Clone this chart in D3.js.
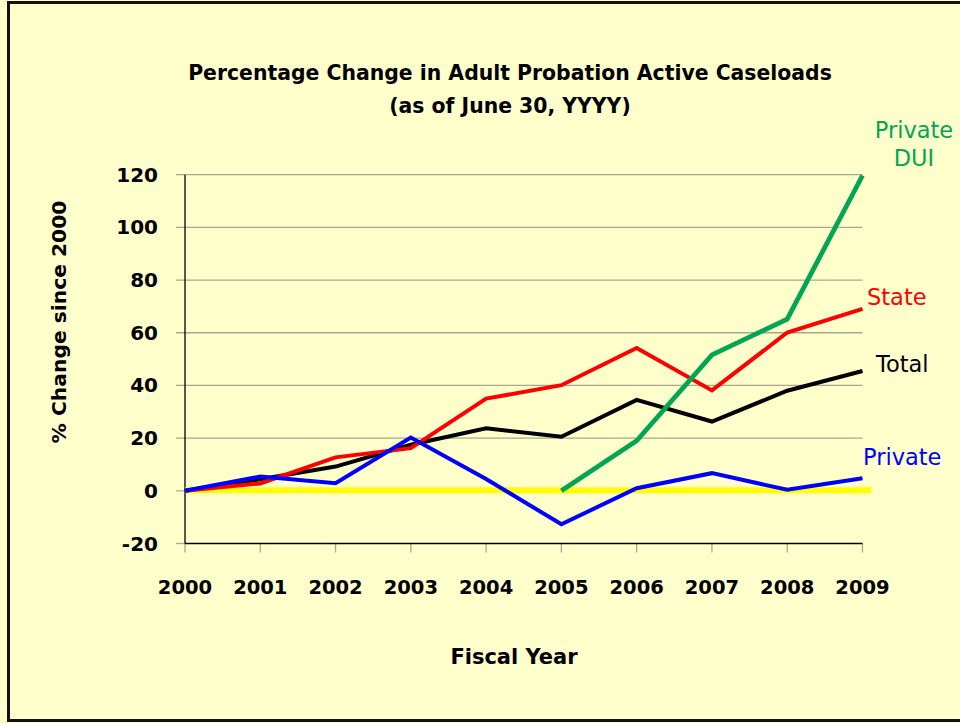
<!DOCTYPE html>
<html>
<head>
<meta charset="utf-8">
<script src="https://cdn.jsdelivr.net/npm/d3@7"></script>
<style>
  html, body { margin: 0; padding: 0; background: #FFFFCC; }
  svg { display: block; }
  text { font-family: "Comic Sans MS", "DejaVu Sans", sans-serif; }
</style>
</head>
<body>
<svg id="chart" width="960" height="723"></svg>
<script>
const years = [2000, 2001, 2002, 2003, 2004, 2005, 2006, 2007, 2008, 2009];
const totalValues   = [0, 4.4, 9.2, 17.5, 23.7, 20.5, 34.5, 26.3, 38.0, 45.5];
const stateValues   = [0, 2.8, 12.7, 16.2, 35.0, 40.1, 54.2, 38.1, 60.1, 69.1];
const privateValues = [0, 5.4, 2.9, 20.2, 4.5, -12.7, 1.0, 6.7, 0.4, 4.8];
const privateDuiYears  = [2005, 2006, 2007, 2008, 2009];
const privateDuiValues = [0, 19.0, 51.6, 65.2, 119.7];
const yTicks = [-20, 0, 20, 40, 60, 80, 100, 120];
const titleLines = ["Percentage Change in Adult Probation Active Caseloads", "(as of June 30, YYYY)"];

const svg = d3.select("#chart");
const W = 960, H = 723;

svg.append("rect").attr("x", 0).attr("y", 0).attr("width", W).attr("height", H).attr("fill", "#FFFFCC");
svg.append("rect").attr("x", 8.5).attr("y", 2.5).attr("width", 960).attr("height", 718)
  .attr("fill", "none").attr("stroke", "#111").attr("stroke-width", 3);

const pL = 185, pR = 862.5, pT = 174.7, pB = 543.5;
const x = d3.scaleLinear().domain([2000, 2009]).range([pL, pR]);
const y = d3.scaleLinear().domain([-20, 120]).range([pB, pT]);

// gridlines
svg.append("g").selectAll("line").data(yTicks.filter(d => d > -20)).join("line")
  .attr("x1", pL - 9).attr("x2", pR).attr("y1", d => y(d)).attr("y2", d => y(d))
  .attr("stroke", "#a8a890").attr("stroke-width", 1.3);
svg.append("line").attr("x1", pL - 9).attr("x2", pL).attr("y1", y(-20)).attr("y2", y(-20))
  .attr("stroke", "#a8a890").attr("stroke-width", 1.3);

// x ticks
svg.append("g").selectAll("line").data(years).join("line")
  .attr("x1", d => x(d)).attr("x2", d => x(d)).attr("y1", pB).attr("y2", pB + 9)
  .attr("stroke", "#a8a890").attr("stroke-width", 1.3);

// axes lines
svg.append("line").attr("x1", pL).attr("x2", pL).attr("y1", pT).attr("y2", pB)
  .attr("stroke", "#000").attr("stroke-width", 1.3);
svg.append("line").attr("x1", pL).attr("x2", pR).attr("y1", pB).attr("y2", pB)
  .attr("stroke", "#000").attr("stroke-width", 1.3);

// y tick labels
svg.append("g").selectAll("text").data(yTicks).join("text")
  .attr("x", 158).attr("y", d => y(d)).attr("dy", "0.35em")
  .attr("text-anchor", "end").attr("font-size", 20).attr("font-weight", "bold")
  .text(d => d < 0 ? "-" + Math.abs(d) : d);

// x tick labels
svg.append("g").selectAll("text").data(years).join("text")
  .attr("x", d => x(d)).attr("y", 594).attr("text-anchor", "middle")
  .attr("font-size", 19.5).attr("font-weight", "bold").text(d => d);

// titles
svg.append("g").selectAll("text").data(titleLines).join("text")
  .attr("x", 510).attr("y", (d, i) => 80 + i * 33).attr("text-anchor", "middle")
  .attr("font-size", 20.4).attr("font-weight", "bold").text(d => d);

svg.append("text").attr("x", 514).attr("y", 664).attr("text-anchor", "middle")
  .attr("font-size", 21).attr("font-weight", "bold").text("Fiscal Year");

svg.append("text").attr("transform", "translate(66,322) rotate(-90)").attr("text-anchor", "middle")
  .attr("font-size", 20.3).attr("font-weight", "bold").text("% Change since 2000");

// yellow zero line
svg.append("line").attr("x1", pL).attr("x2", 871.5).attr("y1", y(0) - 0.5).attr("y2", y(0) - 0.5)
  .attr("stroke", "#FFFF00").attr("stroke-width", 6);

const line = d3.line().x(d => x(d[0])).y(d => y(d[1]));
const series = [
  { yrs: years, vals: totalValues, color: "#000000", w: 4 },
  { yrs: years, vals: stateValues, color: "#FF0000", w: 4 },
  { yrs: privateDuiYears, vals: privateDuiValues, color: "#00A651", w: 4.8 },
  { yrs: years, vals: privateValues, color: "#0000FF", w: 4 }
];
series.forEach(s => {
  svg.append("path").datum(s.yrs.map((yr, i) => [yr, s.vals[i]]))
    .attr("d", line).attr("fill", "none").attr("stroke", s.color)
    .attr("stroke-width", s.w).attr("stroke-linejoin", "miter");
});

// series labels
const labels = [
  { t: "Private", x: 914, y: 138, c: "#00A651", a: "middle" },
  { t: "DUI", x: 914, y: 166, c: "#00A651", a: "middle" },
  { t: "State", x: 867, y: 305, c: "#FF0000", a: "start" },
  { t: "Total", x: 876, y: 372, c: "#000000", a: "start" },
  { t: "Private", x: 863, y: 465, c: "#0000FF", a: "start" }
];
svg.append("g").selectAll("text").data(labels).join("text")
  .attr("x", d => d.x).attr("y", d => d.y).attr("text-anchor", d => d.a)
  .attr("fill", d => d.c).attr("font-size", 22.5).text(d => d.t);
</script>
</body>
</html>
